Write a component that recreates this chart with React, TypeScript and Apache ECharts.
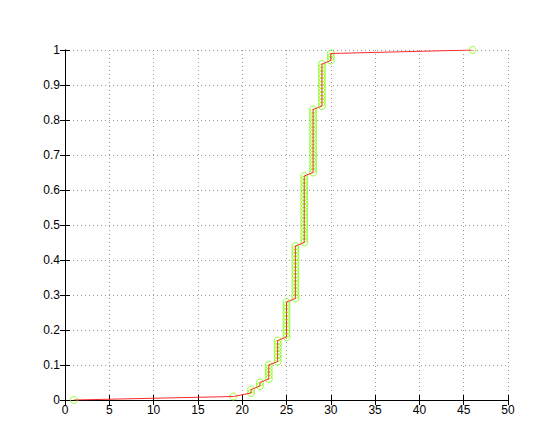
import React, { useEffect, useRef } from "react";
import * as echarts from "echarts";

// Distinct sample values and how many samples take each value
const sampleValues = [1, 19, 21, 22, 23, 24, 25, 26, 27, 28, 29, 30, 46];
const sampleCounts = [1, 1, 2, 2, 5, 7, 11, 16, 20, 19, 13, 3, 1];

const xTicks = [0, 5, 10, 15, 20, 25, 30, 35, 40, 45, 50];
const yTicks = [0, 0.1, 0.2, 0.3, 0.4, 0.5, 0.6, 0.7, 0.8, 0.9, 1];

export default function App() {
  const ref = useRef<HTMLDivElement>(null);
  useEffect(() => {
    if (!ref.current) return;
    const chart = echarts.init(ref.current, null, { renderer: "svg" });
    // sorted samples -> empirical cumulative probability
    const sorted: number[] = [];
    sampleValues.forEach((v, i) => {
      for (let k = 0; k < sampleCounts[i]; k++) sorted.push(v);
    });
    const n = sorted.length;
    const pts = sorted.map((v, i) => [v, i / (n - 1)]);

    const font = "'Liberation Sans', Arial, Helvetica, sans-serif";
    const label = { color: "#000", fontFamily: font, fontSize: 12 };
    const axisLine = { show: true, lineStyle: { color: "#000", width: 1 } };
    const tick = { show: true, inside: true, length: 5, lineStyle: { color: "#000" } };
    const split = { show: true, lineStyle: { color: "#999", type: [1, 3] as any, width: 1 } };

    chart.setOption({
      animation: false,
      backgroundColor: "#fff",
      grid: { left: 65, right: 46, top: 50, bottom: 44, containLabel: false },
      xAxis: [
        {
          type: "value", min: xTicks[0], max: xTicks[xTicks.length - 1], interval: 5,
          position: "bottom", axisLine, axisTick: tick, splitLine: split,
          axisLabel: { ...label, margin: 4 },
        },
        {
          type: "value", min: xTicks[0], max: xTicks[xTicks.length - 1], interval: 5,
          position: "top", axisLine, axisTick: tick, splitLine: { show: false },
          axisLabel: { show: false },
        },
      ],
      yAxis: [
        {
          type: "value", min: yTicks[0], max: yTicks[yTicks.length - 1], interval: 0.1,
          position: "left", axisLine, axisTick: tick, splitLine: split,
          axisLabel: { ...label, margin: 5 },
        },
        {
          type: "value", min: yTicks[0], max: yTicks[yTicks.length - 1], interval: 0.1,
          position: "right", axisLine, axisTick: tick, splitLine: { show: false },
          axisLabel: { show: false },
        },
      ],
      series: [
        {
          type: "scatter",
          data: pts,
          symbol: "circle",
          symbolSize: 7,
          itemStyle: { color: "rgba(0,0,0,0)", borderColor: "#7CFC00", borderWidth: 1 },
          z: 2,
        },
        {
          type: "line",
          data: pts,
          symbol: "none",
          lineStyle: { color: "#ff2a2a", width: 1 },
          z: 3,
        },
      ],
    });
    return () => chart.dispose();
  }, []);
  return (
    <div
      ref={ref}
      style={{ position: "absolute", left: 0, top: 0, width: 554, height: 444, background: "#fff" }}
    />
  );
}
